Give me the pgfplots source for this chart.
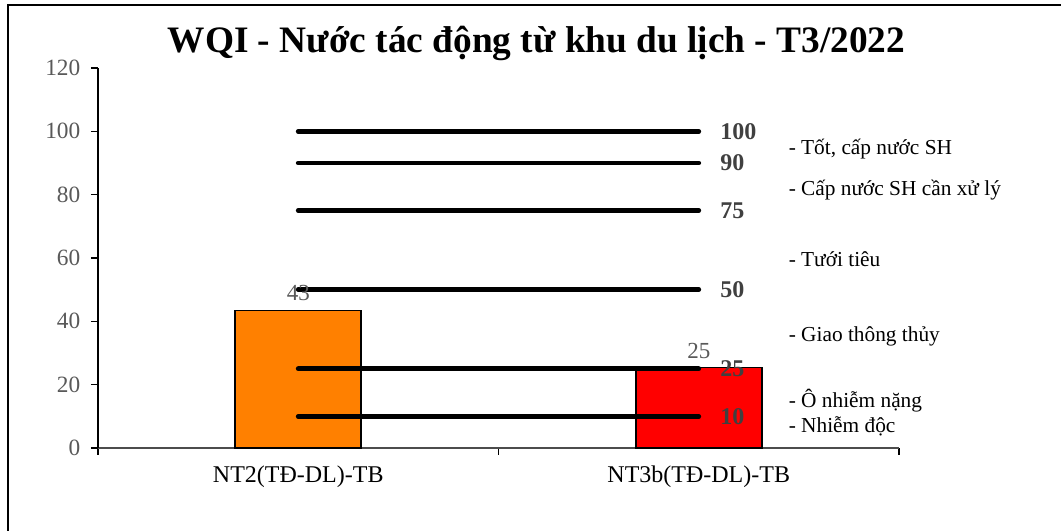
\documentclass[border=0pt]{standalone}
\usepackage{fontspec}
\setmainfont{Liberation Serif}
\usepackage{pgfplots}
\pgfplotsset{compat=1.18}
\definecolor{tickgray}{HTML}{595959}
\definecolor{lblgray}{HTML}{404040}
\definecolor{barorange}{HTML}{FF8000}
\definecolor{barred}{HTML}{FF0000}
\tikzset{lvllbl/.style={anchor=west, xshift=11pt, text=lblgray,
    font=\bfseries\fontsize{18}{21}\selectfont}}
\pgfplotsset{lvl/.style={black, line width=3.6pt, line cap=round}}

\begin{document}
\begin{tikzpicture}
% page = 1061 x 531 px, 1 px = 0.75pt, axis origin at px (98,448)
\path[use as bounding box] (-73.5pt,-62.25pt) rectangle (722.25pt,336pt);
\draw[line width=1.5pt] (-67.5pt,-62.25pt) -- (-67.5pt,332.25pt) -- (722.25pt,332.25pt);

\begin{axis}[
  at={(0,0)}, anchor=south west,
  scale only axis, width=600.75pt, height=285pt,
  xmin=-0.5, xmax=1.5, ymin=0, ymax=120,
  clip=false,
  axis x line*=bottom, axis y line*=left,
  x axis line style={black!70, line width=1.1pt},
  y axis line style={black, line width=1.7pt},
  tick align=outside,
  major tick length=5.25pt,
  tick style={black, line width=1.1pt},
  ytick={0,20,...,120},
  yticklabel style={font=\fontsize{17.5}{20}\selectfont, text=tickgray,
    xshift=-4.5pt, /pgf/number format/assume math mode=true},
  xtick={-0.5,0.5,1.5},
  xticklabels={},
  extra x ticks={0,1},
  extra x tick labels={NT2(TĐ-DL)-TB,NT3b(TĐ-DL)-TB},
  extra x tick style={major tick length=0pt,
    xticklabel style={font=\fontsize{18}{21}\selectfont, text=black,
      anchor=base, yshift=-26.25pt}},
]
% bars
\addplot[ybar, bar width=0.3146, bar shift=0pt, fill=barorange, draw=black, line width=1.3pt,
  nodes near coords={\pgfmathprintnumber[fixed,precision=0]{\pgfplotspointmeta}},
  every node near coord/.append style={font=\fontsize{17.25}{20}\selectfont, text=tickgray,
    /pgf/number format/assume math mode=true, yshift=3.5pt}]
  coordinates {(0,43.4)};
\addplot[ybar, bar width=0.3146, bar shift=0pt, fill=barred, draw=black, line width=1.3pt,
  nodes near coords={\pgfmathprintnumber[fixed,precision=0]{\pgfplotspointmeta}},
  every node near coord/.append style={font=\fontsize{17.25}{20}\selectfont, text=tickgray,
    /pgf/number format/assume math mode=true, yshift=3pt}]
  coordinates {(1,25.4)};

% WQI level lines
\addplot[lvl] coordinates {(0,100) (1,100)} node[pos=1, lvllbl] {100};
\addplot[lvl] coordinates {(0,90) (1,90)} node[pos=1, lvllbl] {90};
\addplot[lvl] coordinates {(0,75) (1,75)} node[pos=1, lvllbl] {75};
\addplot[lvl] coordinates {(0,50) (1,50)} node[pos=1, lvllbl] {50};
\addplot[lvl] coordinates {(0,25) (1,25)} node[pos=1, lvllbl] {25};
\addplot[lvl] coordinates {(0,10) (1,10)} node[pos=1, lvllbl] {10};

% class descriptions
\begin{scope}[every node/.style={anchor=base west, font=\fontsize{16}{19}\selectfont}]
\node at (axis cs:1.213,92.8) {- Tốt, cấp nước SH};
\node at (axis cs:1.213,79.6) {- Cấp nước SH cần xử lý};
\node at (axis cs:1.213,57.2) {- Tưới tiêu};
\node at (axis cs:1.213,33.5) {- Giao thông thủy};
\node at (axis cs:1.213,12.9) {- Ô nhiễm nặng};
\node at (axis cs:1.213,5.05) {- Nhiễm độc};
\end{scope}
\end{axis}

\node[anchor=base, font=\bfseries\fontsize{28}{32}\selectfont] at (328.9pt,296.25pt)
  {WQI - Nước tác động từ khu du lịch - T3/2022};
\end{tikzpicture}
\end{document}
